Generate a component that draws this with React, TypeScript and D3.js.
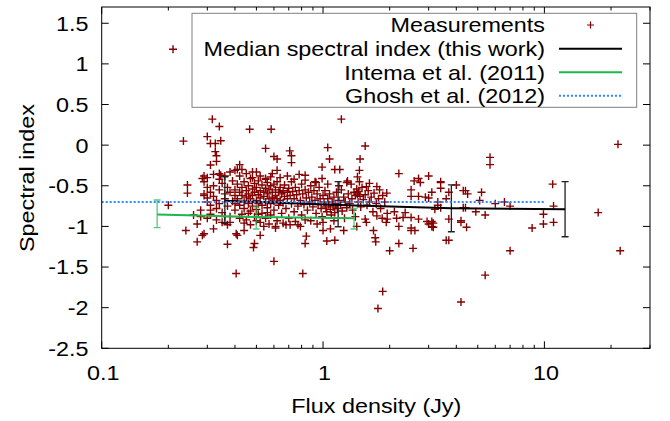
import React from "react";
import * as d3 from "d3";

// ---------- data ----------
const xTickMajor = [0.1, 1, 10];
const xTickLabels = ["0.1", "1", "10"];
const xTickMinor = [0.2, 0.3, 0.4, 0.5, 0.6, 0.7, 0.8, 0.9, 2, 3, 4, 5, 6, 7, 8, 9, 20, 30];
const yTicks = [-2.5, -2, -1.5, -1, -0.5, 0, 0.5, 1, 1.5];
const yTickLabels = ["-2.5", "-2", "-1.5", "-1", "-0.5", "0", "0.5", "1", "1.5"];

const legendLabels = [
  "Measurements",
  "Median spectral index (this work)",
  "Intema et al. (2011)",
  "Ghosh et al. (2012)",
];

// Measurements: [flux density (Jy), spectral index]
const measurementsSparse: [number, number][] = [
  [0.21, 1.18], [0.316, 0.32], [0.34, 0.23], [0.466, 0.195], [0.583, 0.195], [1.21, 0.32],
  [0.234, 0.05], [0.3, 0.105], [0.31, 0.02], [0.326, 0.02], [0.345, 0.055],
  [0.55, -0.04], [1.05, -0.03], [1.55, -0.01], [21.5, 0.01],
  [0.326, -0.08], [0.33, -0.13], [0.33, -0.2], [0.31, -0.245],
  [0.707, -0.07], [0.72, -0.13], [0.72, -0.215], [0.6, -0.14], [0.62, -0.17],
  [1.07, -0.17], [1.47, -0.17], [5.68, -0.15], [5.68, -0.24],
  [0.42, -0.24], [0.41, -0.3], [0.43, -0.3], [0.99, -0.27], [1.13, -0.3], [1.19, -0.3], [1.46, -0.31], [0.62, -0.31], [0.4, -0.31],
  [0.29, -0.38], [0.285, -0.41], [0.34, -0.35], [0.345, -0.37], [0.48, -0.33], [0.5, -0.33], [0.55, -0.41], [0.59, -0.35],
  [0.83, -0.37], [0.83, -0.43], [0.99, -0.41], [0.93, -0.46], [1.43, -0.39], [1.29, -0.44], [1.57, -0.51], [1.75, -0.51], [1.8, -0.55], [1.94, -0.59],
  [0.244, -0.49], [0.244, -0.59], [0.2, -0.74], [0.26, -0.86], [0.28, -0.88], [0.3, -0.9], [0.29, -0.6], [0.3, -0.65], [0.28, -0.8], [0.31, -0.8],
  [0.24, -1.05], [0.27, -0.97], [0.285, -1.11], [0.27, -1.19], [0.29, -1.09], [0.32, -1.03], [0.37, -0.98], [0.37, -1.22], [0.405, -1.09], [0.41, -1.11],
  [0.44, -1.05], [0.485, -1.26], [0.49, -1.21], [0.52, -1.11], [0.61, -1.0], [0.6, -1.43], [0.405, -1.58], [0.81, -1.58],
  [0.83, -1.21], [0.84, -1.12], [1.04, -1.18], [1.13, -1.17], [1.0, -1.05], [1.08, -1.03], [1.24, -1.05], [0.77, -0.98], [0.68, -0.98], [0.61, -1.02],
  [1.69, -1.05], [1.72, -1.14], [1.73, -1.19], [1.93, -0.95], [1.75, -0.87], [1.57, -0.95], [1.42, -1.0],
  [2.0, -1.3], [2.2, -1.21], [2.55, -1.27], [2.5, -1.05], [2.2, -1.0], [3.0, -0.97], [3.1, -1.0], [3.1, -0.94], [3.6, -1.17],
  [1.86, -1.8], [1.77, -2.01], [4.2, -1.93], [5.4, -1.6], [7.0, -1.3], [22, -1.3], [17.5, -0.83],
  [2.2, -0.35], [3.0, -0.38], [2.58, -0.44], [2.7, -0.41], [2.75, -0.46], [3.4, -0.46], [3.4, -0.53], [4.0, -0.49], [4.4, -0.56], [4.5, -0.6],
  [5.2, -0.58], [2.5, -0.55], [2.5, -0.63], [3.1, -0.58], [3.7, -0.58], [2.9, -0.64], [3.0, -0.65], [3.6, -0.66], [5.1, -0.68], [6.0, -0.72],
  [6.6, -0.7], [7.0, -0.75], [4.9, -0.82], [5.4, -0.86], [4.4, -0.77], [3.4, -0.77], [3.3, -0.74], [3.2, -0.79], [2.1, -0.82], [2.35, -0.83],
  [1.95, -0.91], [2.15, -0.9], [2.3, -0.89], [2.5, -0.89], [2.7, -0.91], [2.95, -0.94], [3.15, -1.01], [3.15, -0.96], [3.7, -0.91], [4.2, -0.95],
  [4.2, -0.93], [4.45, -1.01], [2.5, -1.02], [2.6, -1.05], [3.7, -1.17], [2.7, -0.63], [3.3, -0.7], [3.4, -0.45], [10.9, -0.48], [11.0, -0.75],
  [9.9, -0.85], [9.9, -0.97], [11.0, -0.95], [8.8, -1.02], [4.3, -0.77], [4.3, -0.56],
];

const measurementsDense: [number, number][] = [
  [0.29, -0.45], [0.3, -0.52], [0.31, -0.58], [0.29, -0.62], [0.3, -0.7], [0.31, -0.74], [0.32, -0.5], [0.32, -0.63], [0.33, -0.68], [0.33, -0.78],
  [0.34, -0.55], [0.34, -0.72], [0.35, -0.47], [0.35, -0.83], [0.36, -0.6], [0.36, -0.66], [0.37, -0.52], [0.37, -0.75], [0.38, -0.58], [0.38, -0.88],
  [0.39, -0.44], [0.39, -0.69], [0.4, -0.55], [0.4, -0.62], [0.4, -0.8], [0.31, -0.85], [0.33, -0.92], [0.35, -0.95], [0.36, -0.88], [0.38, -0.95],
  [0.3, -0.4], [0.32, -0.36], [0.34, -0.42], [0.36, -0.38], [0.38, -0.33],
  [0.41, -0.48], [0.41, -0.66], [0.42, -0.58], [0.42, -0.74], [0.43, -0.52], [0.43, -0.62], [0.43, -0.85], [0.44, -0.45], [0.44, -0.7], [0.44, -0.78],
  [0.45, -0.56], [0.45, -0.64], [0.45, -0.92], [0.46, -0.5], [0.46, -0.6], [0.46, -0.72], [0.47, -0.41], [0.47, -0.66], [0.47, -0.81], [0.48, -0.54],
  [0.48, -0.62], [0.48, -0.75], [0.49, -0.47], [0.49, -0.58], [0.49, -0.88], [0.5, -0.52], [0.5, -0.68], [0.5, -0.79], [0.51, -0.44], [0.51, -0.61],
  [0.51, -0.72], [0.52, -0.56], [0.52, -0.65], [0.52, -0.95], [0.53, -0.49], [0.53, -0.74], [0.53, -0.84], [0.54, -0.58], [0.54, -0.63], [0.55, -0.53],
  [0.55, -0.7], [0.55, -0.9], [0.56, -0.46], [0.56, -0.6], [0.56, -0.77], [0.57, -0.55], [0.57, -0.66], [0.58, -0.5], [0.58, -0.72], [0.58, -0.86],
  [0.59, -0.58], [0.59, -0.64], [0.6, -0.48], [0.6, -0.69], [0.6, -0.8], [0.42, -0.38], [0.45, -0.35], [0.48, -0.4], [0.52, -0.38], [0.55, -0.42],
  [0.58, -0.39], [0.44, -0.96], [0.47, -0.98], [0.5, -0.93], [0.54, -1.0], [0.57, -0.97], [0.42, -0.9], [0.4, -0.72], [0.46, -0.84], [0.51, -0.85],
  [0.56, -0.83],
  [0.61, -0.55], [0.61, -0.62], [0.62, -0.66], [0.62, -0.45], [0.63, -0.58], [0.63, -0.74], [0.64, -0.52], [0.64, -0.68], [0.65, -0.6], [0.65, -0.84],
  [0.66, -0.56], [0.66, -0.71], [0.67, -0.49], [0.67, -0.63], [0.68, -0.78], [0.69, -0.58], [0.69, -0.66], [0.7, -0.53], [0.7, -0.9], [0.71, -0.62],
  [0.72, -0.45], [0.72, -0.72], [0.73, -0.57], [0.74, -0.66], [0.74, -0.82], [0.75, -0.52], [0.76, -0.61], [0.77, -0.75], [0.78, -0.56], [0.79, -0.68],
  [0.8, -0.48], [0.8, -0.86], [0.81, -0.6], [0.82, -0.73], [0.83, -0.55], [0.84, -0.65], [0.85, -0.8], [0.62, -0.93], [0.66, -0.96], [0.71, -0.98],
  [0.75, -0.94], [0.79, -1.0], [0.83, -0.92], [0.64, -0.4], [0.69, -0.38], [0.74, -0.42], [0.78, -0.36],
  [0.86, -0.58], [0.87, -0.7], [0.88, -0.5], [0.89, -0.64], [0.9, -0.76], [0.91, -0.56], [0.92, -0.68], [0.93, -0.84], [0.94, -0.6], [0.95, -0.73],
  [0.96, -0.52], [0.97, -0.66], [0.98, -0.78], [0.99, -0.88], [1.0, -0.62], [1.01, -0.7], [1.02, -0.56], [1.03, -0.76], [1.04, -0.82], [1.05, -0.66],
  [1.06, -0.73], [1.07, -0.6], [1.08, -0.79], [1.09, -0.86], [1.1, -0.7], [1.11, -0.76], [1.12, -0.64], [1.13, -0.83], [1.14, -0.72], [1.15, -0.58],
  [1.16, -0.78], [1.18, -0.68], [1.2, -0.74], [1.21, -0.55], [1.22, -0.81], [1.24, -0.64], [1.26, -0.7], [1.28, -0.77], [1.3, -0.6], [0.88, -0.93],
  [0.94, -0.97], [1.0, -0.95], [1.12, -0.93], [1.25, -0.9], [0.92, -0.45], [1.05, -0.48], [1.18, -0.5], [1.28, -0.46],
  [1.32, -0.72], [1.35, -0.66], [1.36, -0.8], [1.38, -0.58], [1.4, -0.62], [1.42, -0.54], [1.43, -0.6], [1.44, -0.7], [1.45, -0.57], [1.47, -0.63],
  [1.48, -0.76], [1.5, -0.52], [1.52, -0.67], [1.55, -0.61], [1.58, -0.74], [1.6, -0.56], [1.62, -0.7], [1.65, -0.64], [1.68, -0.82], [1.7, -0.59],
  [1.74, -0.72], [1.78, -0.66], [1.82, -0.78], [1.86, -0.62], [1.9, -0.7], [1.95, -0.84], [1.4, -0.88], [1.55, -0.91], [1.85, -0.9], [1.34, -0.48],
  [1.46, -0.45], [1.62, -0.47],
];

// Median spectral index (this work): flux, value, low, high
const medianFlux = [0.36, 1.17, 3.8, 12.4];
const medianValue = [-0.684, -0.737, -0.778, -0.79];
const medianLow = [-0.962, -1.004, -1.066, -1.127];
const medianHigh = [-0.389, -0.45, -0.49, -0.45];

// Intema et al. (2011)
const intemaFlux = [0.178, 0.499, 1.38];
const intemaValue = [-0.854, -0.885, -0.9];
const intemaLow = [-1.016, -1.032, -1.032];
const intemaHigh = [-0.675, -0.76, -0.777];

// Ghosh et al. (2012)
const ghoshFlux = [0.1, 10];
const ghoshValue = [-0.7, -0.7];

// ---------- layout ----------
const W = 670;
const H = 421;
const L = 101.7, R = 650, T = 7, B = 348.3;
const SX = 1.14;
const FONT = "'Liberation Sans', Arial, Helvetica, sans-serif";
const FS = 20.5;
const RED = "#850000";
const GREEN = "#1cb84b";
const BLUE = "#2a8cff";

const x = d3.scaleLog().domain([0.1, 30]).range([L, R]);
const y = d3.scaleLinear().domain([-2.5, 1.7]).range([B, T]);

function Txt({ px, py, anchor, rot, children }: any) {
  const tr = `translate(${px},${py})${rot ? ` rotate(${rot})` : ""} scale(${SX},1)`;
  return (
    <text transform={tr} textAnchor={anchor} fontFamily={FONT} fontSize={FS} fill="#000">
      {children}
    </text>
  );
}

function plus(px: number, py: number, s = 4) {
  return `M${px - s},${py}h${2 * s}M${px},${py - s}v${2 * s}`;
}

export default function App() {
  const allPts = [...measurementsDense, ...measurementsSparse];
  const ptsPath = allPts.map(([f, v]) => plus(x(f), y(v))).join("");

  const line = d3.line<[number, number]>().x((d) => x(d[0])).y((d) => y(d[1]));
  const medianPts = medianFlux.map((f, i) => [f, medianValue[i]] as [number, number]);
  const intemaPts = intemaFlux.map((f, i) => [f, intemaValue[i]] as [number, number]);
  const ghoshPts = ghoshFlux.map((f, i) => [f, ghoshValue[i]] as [number, number]);

  const errBars = (fl: number[], lo: number[], hi: number[], cap = 3.5) =>
    fl
      .map((f, i) => {
        const px = x(f);
        return `M${px},${y(lo[i])}V${y(hi[i])}M${px - cap},${y(lo[i])}h${2 * cap}M${px - cap},${y(hi[i])}h${2 * cap}`;
      })
      .join("");

  const legX0 = 192, legX1 = 636.7, legY0 = 13.3, legY1 = 107.3;
  const rowY = [25, 48.8, 72.2, 95.7];
  const sampleX0 = 559, sampleX1 = 622;

  return (
    <svg width={W} height={H} style={{ position: "absolute", left: 0, top: 0, background: "#fff" }}>
      <rect x={0} y={0} width={W} height={H} fill="#fff" />
      {/* ticks */}
      <g stroke="#000" strokeWidth={1}>
        {yTicks.map((t) => (
          <g key={"y" + t}>
            <line x1={L} x2={L + 7} y1={y(t)} y2={y(t)} />
            <line x1={R} x2={R - 7} y1={y(t)} y2={y(t)} />
          </g>
        ))}
        {xTickMajor.map((t) => (
          <g key={"xM" + t}>
            <line x1={x(t)} x2={x(t)} y1={B} y2={B - 7} />
            <line x1={x(t)} x2={x(t)} y1={T} y2={T + 7} />
          </g>
        ))}
        {xTickMinor.map((t) => (
          <g key={"xm" + t}>
            <line x1={x(t)} x2={x(t)} y1={B} y2={B - 3.5} />
            <line x1={x(t)} x2={x(t)} y1={T} y2={T + 3.5} />
          </g>
        ))}
      </g>
      {/* tick labels */}
      {yTicks.map((t, i) => (
        <Txt key={"yl" + t} px={88.5} py={y(t) + 7.4} anchor="end">
          {yTickLabels[i]}
        </Txt>
      ))}
      {xTickMajor.map((t, i) => (
        <Txt key={"xl" + t} px={x(t) + 1.5} py={379.5} anchor="middle">
          {xTickLabels[i]}
        </Txt>
      ))}
      <Txt px={376.3} py={413.3} anchor="middle">
        Flux density (Jy)
      </Txt>
      <Txt px={33.5} py={178} anchor="middle" rot={-90}>
        Spectral index
      </Txt>

      {/* legend */}
      <rect x={legX0} y={legY0} width={legX1 - legX0} height={legY1 - legY0} fill="none" stroke="#808080" strokeWidth={1} />
      {legendLabels.map((lab, i) => (
        <Txt key={lab} px={545} py={rowY[i] + 7.3} anchor="end">
          {lab}
        </Txt>
      ))}
      <path d={plus((sampleX0 + sampleX1) / 2, rowY[0], 3.5)} stroke={RED} strokeWidth={1.2} fill="none" />
      <line x1={sampleX0} x2={sampleX1} y1={rowY[1]} y2={rowY[1]} stroke="#000" strokeWidth={2} />
      <line x1={sampleX0} x2={sampleX1} y1={rowY[2]} y2={rowY[2]} stroke={GREEN} strokeWidth={2} />
      <line x1={sampleX0} x2={sampleX1} y1={rowY[3]} y2={rowY[3]} stroke={BLUE} strokeWidth={2} strokeDasharray="2,2" />

      {/* measurements */}
      <path d={ptsPath} stroke={RED} strokeWidth={1.4} fill="none" />

      {/* median */}
      <path d={errBars(medianFlux, medianLow, medianHigh)} stroke="#222" strokeWidth={1.3} fill="none" />
      <path d={line(medianPts) || ""} stroke="#000" strokeWidth={2} fill="none" />

      {/* Intema */}
      <path d={errBars(intemaFlux, intemaLow, intemaHigh)} stroke={GREEN} strokeOpacity={0.75} strokeWidth={1.3} fill="none" />
      <path d={line(intemaPts) || ""} stroke={GREEN} strokeWidth={2} fill="none" />

      {/* Ghosh */}
      <path d={line(ghoshPts) || ""} stroke={BLUE} strokeWidth={2} strokeDasharray="2,2" fill="none" />

      {/* frame */}
      <rect x={L} y={T} width={R - L} height={B - T} fill="none" stroke="#000" strokeWidth={1} />
    </svg>
  );
}
